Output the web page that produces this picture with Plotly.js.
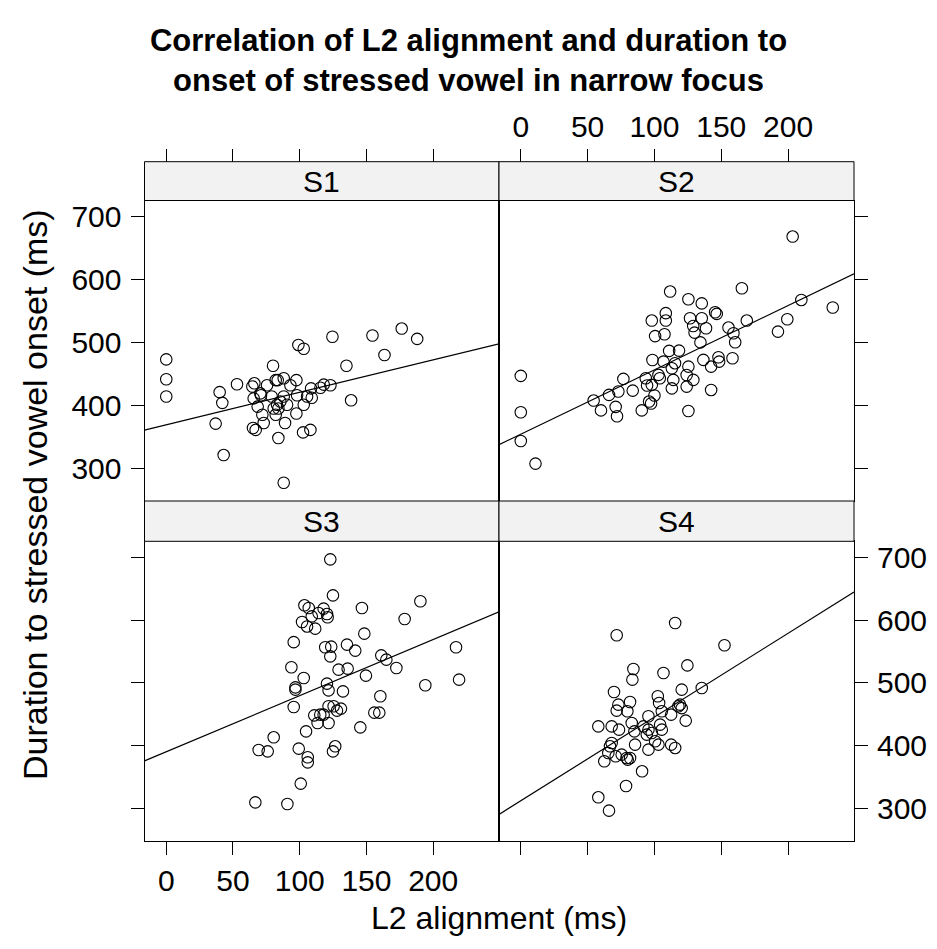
<!DOCTYPE html>
<html><head><meta charset="utf-8">
<script src="https://cdn.plot.ly/plotly-3.0.1.min.js"></script>
<style>html,body{margin:0;padding:0;background:#fff;} #chart{width:937px;height:949px;}</style>
</head><body><div id="chart"></div><script>
// ---- data ----
const panelNames = ["S1", "S2", "S3", "S4"];
const xTicks = [0, 50, 100, 150, 200];
const yTicks = [300, 400, 500, 600, 700];

const xS1 = [0,0,0,40,42,37,43,53,64.5,66,65.5,65,67,70.5,71,68.5,72,73,75.5,80,79,82,83.5,82,80.5,83,84,85.5,88,89,84,88,88,90.5,93,97.5,97.5,98,99,103,103,102.5,108,105.5,108.5,109,115.5,118,123,124.5,135,138.5,154.5,163.5,176.4,188];
const yS1 = [473,441.5,414,421,404,371,321,433.5,430,435,411,364,361,419,416,398,385,372,432,463,414,440,440,385,395,401,395,406,443,372,348,277,414,401,432,440,387,416,496,490,401,357,361,414,427,412,428,433,432,509,463,408,511,480,522,505.6];

const xS2 = [0,0,0,11,54.5,60,66,73,71,72,76.75,83.75,90.5,93.5,94.5,98.5,98,100.5,108.5,108.5,107.5,111.75,111,106.75,98,100,97.5,96,103,104,113,113,
  125.4,135.4,145.4,146.6,126.6,135.4,129,130,138.6,134.4,155.4,159.1,160.4,165.4,169.1,118.4,115.4,125.4,124.1,129.1,114.1,124.1,136.6,142.4,147.9,148.4,158.4,142.4,125.4,192.4,199.4,209.9,203.4,233.4];
const yS2 = [446.8,389,343.4,307.4,407.6,392,416.6,422,397.6,382.7,442,423.4,392,443,431.5,472,534.7,510,546.5,534.7,513,580.8,486.5,469.5,432.5,415.6,403,406,448.4,443,459,427,
  568.6,562,548,545.3,538.4,538.4,526,515.6,522.5,500,523.6,514.6,500.3,586,534.7,487,467,461.6,448.3,440.4,440.4,429.8,472.2,461.6,476.4,469.5,474.8,424.5,391,517.2,536.8,567.5,668.2,555.4];

const xS3 = [103.5,106.75,101.75,105.5,95.5,93.75,103,96.75,96.75,95.5,104.75,80.5,69.25,76,99.25,106,106,100.75,66.75,90.75,
  122.9,124.9,114.1,117.9,120.4,120.9,109,111.6,146.6,178.6,190.4,148.4,119.1,123.6,122.9,135.4,141.6,129.1,135.9,161.1,164.9,172.4,217.1,149.6,120.4,121.6,132.4,160.4,194.1,219.4,121.6,125.4,127.9,130.9,155.9,159.6,110.9,115.4,117.9,113.4,121.6,145.4,126.6,124.9];
const yS3 = [623.6,619.4,597,590,565,525,508,493,489.4,461.8,423,413.5,393.4,391.2,395.5,381.7,373.7,339.8,310,307.4,
  696.8,639.5,611.4,618.3,609.8,604.5,606,586.5,619.4,601.9,630,578.5,556.8,557.8,542.4,561,551.5,521.2,522.8,544,537.1,523.9,556.8,511.7,498.9,488.3,486.7,478.8,496.3,505.3,462.9,462.9,456,459.2,452.8,452.8,448.5,449.6,449.6,436.3,436.3,429.4,399.2,391.2];

const xS4 = [71.75,84.25,83.5,106.75,115.5,69.75,73,71.75,79.75,81.75,102.5,103.5,105.5,112.5,58,68,73.5,83,85,95.5,91.75,95.5,94.25,98,104.25,105.5,100.5,103,112.5,115.5,95.5,68,66.75,65.5,62.5,71,75.5,79.25,81.75,80,85.5,90.75,78.75,58,66,
  152.4,124.65,120.4,135.4,119.1,120.4,117.9,123.4];
const yS4 = [575.9,522.3,505.3,515.9,595.5,485.7,465.5,456,454.9,469.8,478.8,468.2,454.9,449.6,431,431,425.7,436.3,423,447,431,425.7,417.8,420.4,433.7,425.7,407.2,401.9,401.9,396.6,393.9,404.5,399.2,388.6,375.3,383.3,385.9,380.6,380.6,378,401.9,359.4,336.1,318,296.8,
  560,528,489.4,492,465.5,460,462.9,440];

// fitted regression lines (intercept, slope) per panel
const fitIntercept = [369.1, 354.2, 390.5, 312.5];
const fitSlope = [0.516, 1.022, 0.893, 1.333];

// ---- layout geometry ----
const W = 937, H = 949;
const colL = [144.5, 499], colR = [499, 854];
const rowTop = [200.5, 501], rowBot = [541.3, 841.3];
const stripTopRow = [161.7, 200.5], stripBotRow = [501, 541.3];
const xRange = [-16.3, 249.3], yRange = [248, 725.5];
const FONT = '"Liberation Sans", Arial, Helvetica, sans-serif';
const FS = 30;

const xd = c => [c[0] / W, c[1] / W];
const yd = r => [1 - r[1] / H, 1 - r[0] / H];

function xax(dom, o) {
  return Object.assign({
    domain: xd(dom), range: xRange, showgrid: false, zeroline: false,
    showline: true, linecolor: 'black', linewidth: 1, mirror: true,
    ticks: '', tickvals: xTicks, showticklabels: false, ticklen: 13, tickwidth: 1, tickcolor: 'black',
    tickfont: {family: FONT, size: FS, color: 'black'}, fixedrange: true
  }, o);
}
function yax(dom, o) {
  return Object.assign({
    domain: yd(dom), range: yRange, showgrid: false, zeroline: false,
    showline: true, linecolor: 'black', linewidth: 1, mirror: true,
    ticks: '', tickvals: yTicks, showticklabels: false, ticklen: 13, tickwidth: 1, tickcolor: 'black',
    ticklabelstandoff: 3,
    tickfont: {family: FONT, size: FS, color: 'black'}, fixedrange: true
  }, o);
}

const xs = [xS1, xS2, xS3, xS4], ys = [yS1, yS2, yS3, yS4];
const axPairs = [['x', 'y'], ['x2', 'y2'], ['x3', 'y3'], ['x4', 'y4']];
const traces = [];
for (let i = 0; i < 4; i++) {
  traces.push({
    type: 'scatter', mode: 'markers', x: xs[i], y: ys[i],
    xaxis: axPairs[i][0], yaxis: axPairs[i][1],
    marker: {symbol: 'circle-open', size: 11.5, color: 'black', line: {width: 1.1, color: 'black'}},
    showlegend: false, hoverinfo: 'x+y'
  });
}
for (let i = 0; i < 4; i++) {
  const lx = [xRange[0], xRange[1]];
  traces.push({
    type: 'scatter', mode: 'lines', x: lx, y: lx.map(v => fitIntercept[i] + fitSlope[i] * v),
    xaxis: axPairs[i][0], yaxis: axPairs[i][1],
    line: {color: 'black', width: 1.2}, showlegend: false, hoverinfo: 'skip'
  });
}
// carriers for the top tick axes (drawn above the strips)
traces.push({type: 'scatter', mode: 'markers', x: [null], y: [null], xaxis: 'x5', yaxis: 'y', showlegend: false, hoverinfo: 'skip'});
traces.push({type: 'scatter', mode: 'markers', x: [null], y: [null], xaxis: 'x6', yaxis: 'y2', showlegend: false, hoverinfo: 'skip'});

const topTickPos = 1 - stripTopRow[0] / H;

const shapes = [];
const annotations = [];
const strips = [[colL, stripTopRow], [colR, stripTopRow], [colL, stripBotRow], [colR, stripBotRow]];
strips.forEach((s, i) => {
  shapes.push({type: 'rect', xref: 'paper', yref: 'paper',
    x0: s[0][0] / W, x1: s[0][1] / W, y0: 1 - s[1][1] / H, y1: 1 - s[1][0] / H,
    fillcolor: '#f2f2f2', line: {color: 'black', width: 1}, layer: 'above'});
  annotations.push({xref: 'paper', yref: 'paper', x: (s[0][0] + s[0][1]) / 2 / W, y: 1 - (s[1][0] + s[1][1]) / 2 / H,
    text: panelNames[i], showarrow: false, xanchor: 'center', yanchor: 'middle',
    font: {family: FONT, size: FS, color: 'black'}});
});
annotations.push({xref: 'paper', yref: 'paper', x: (colL[0] + colR[1]) / 2 / W, y: 1 - 918 / H,
  text: 'L2 alignment (ms)', showarrow: false, xanchor: 'center', yanchor: 'middle',
  font: {family: FONT, size: 32, color: 'black'}});
annotations.push({xref: 'paper', yref: 'paper', x: 35 / W, y: 1 - 495 / H,
  text: 'Duration to stressed vowel onset (ms)', showarrow: false, textangle: -90, xanchor: 'center', yanchor: 'middle',
  font: {family: FONT, size: 34, color: 'black'}});

const layout = {
  width: W, height: H, margin: {l: 0, r: 0, t: 0, b: 0},
  paper_bgcolor: 'white', plot_bgcolor: 'rgba(0,0,0,0)',
  font: {family: FONT, color: 'black'},
  title: {text: '<b>Correlation of L2 alignment and duration to<br>onset of stressed vowel in narrow focus</b>',
    x: 0.5, xref: 'paper', xanchor: 'center', y: 1 - 51 / H, yref: 'container', yanchor: 'middle',
    font: {family: FONT, size: 31, color: 'black'}},
  xaxis: xax(colL, {anchor: 'y'}),
  yaxis: yax(rowTop, {anchor: 'x', side: 'left', ticks: 'outside', showticklabels: true}),
  xaxis2: xax(colR, {anchor: 'y2'}),
  yaxis2: yax(rowTop, {anchor: 'x2', side: 'right', ticks: 'outside'}),
  xaxis3: xax(colL, {anchor: 'y3', side: 'bottom', ticks: 'outside', showticklabels: true}),
  yaxis3: yax(rowBot, {anchor: 'x3', side: 'left', ticks: 'outside'}),
  xaxis4: xax(colR, {anchor: 'y4', side: 'bottom', ticks: 'outside'}),
  yaxis4: yax(rowBot, {anchor: 'x4', side: 'right', ticks: 'outside', showticklabels: true}),
  xaxis5: xax(colL, {overlaying: 'x', anchor: 'free', position: topTickPos, side: 'top', ticks: 'outside', showline: false, mirror: false}),
  xaxis6: xax(colR, {overlaying: 'x2', anchor: 'free', position: topTickPos, side: 'top', ticks: 'outside', showline: false, mirror: false, showticklabels: true}),
  shapes: shapes, annotations: annotations, showlegend: false
};

Plotly.newPlot('chart', traces, layout, {displayModeBar: false, staticPlot: true});
</script></body></html>
